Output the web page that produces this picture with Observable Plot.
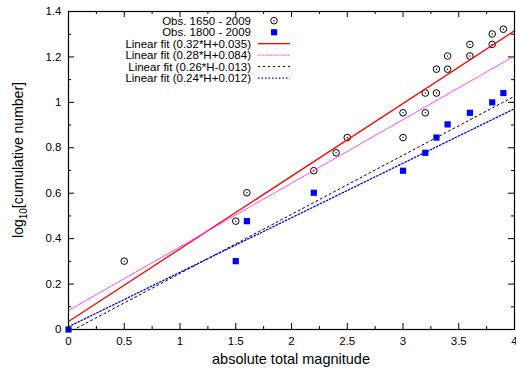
<!DOCTYPE html>
<html><head><meta charset="utf-8">
<script src="https://cdn.jsdelivr.net/npm/d3@7"></script>
<script src="https://cdn.jsdelivr.net/npm/@observablehq/plot@0.6"></script>
<style>body{margin:0;background:#fff}svg{display:block}</style>
</head><body><div id="chart"></div>
<script>
// Observations 1650 - 2009 (circles)
const obs1650Mag  = [0.5, 1.5, 1.6, 2.2, 2.4, 2.5, 3.0, 3.0, 3.2, 3.2, 3.3, 3.3, 3.4, 3.4, 3.6, 3.6, 3.8, 3.8, 3.9];
const obs1650LogN = [0.301, 0.477, 0.602, 0.699, 0.778, 0.845, 0.845, 0.954, 0.954, 1.041, 1.041, 1.146, 1.146, 1.204, 1.204, 1.255, 1.255, 1.301, 1.322];
// Observations 1800 - 2009 (squares)
const obs1800Mag  = [0, 1.5, 1.6, 2.2, 3.0, 3.2, 3.3, 3.4, 3.6, 3.8, 3.9];
const obs1800LogN = [0, 0.301, 0.477, 0.602, 0.699, 0.778, 0.845, 0.903, 0.954, 1.0, 1.041];
const fitLabels = ["Linear fit (0.32*H+0.035)", "Linear fit (0.28*H+0.084)", "Linear fit (0.26*H-0.013)", "Linear fit (0.24*H+0.012)"];
const fitXStart = [0, 0, 0, 0];
const fitXEnd   = [4, 4, 4, 4];
const fitYStart = [0.035, 0.084, -0.013, 0.012];
const fitYEnd   = [1.315, 1.204, 1.027, 0.972];
const seriesLabels = ["Obs. 1650 - 2009", "Obs. 1800 - 2009"];
// Tick values
const xMajor = [0, 0.5, 1, 1.5, 2, 2.5, 3, 3.5, 4];
const xMinor = [0.25, 0.75, 1.25, 1.75, 2.25, 2.75, 3.25, 3.75];
const yMajor = [0, 0.2, 0.4, 0.6, 0.8, 1, 1.2, 1.4];
const yMinor = [0.1, 0.3, 0.5, 0.7, 0.9, 1.1, 1.3];
const xLabel = "absolute total magnitude";

// styles
const fitStyles = [
  {stroke: "#ff0000", strokeWidth: 1.3, strokeDasharray: null},
  {stroke: "#ff33ff", strokeWidth: 1, strokeDasharray: "1.5,1"},
  {stroke: "#000000", strokeWidth: 1, strokeDasharray: "2,3"},
  {stroke: "#0000ff", strokeWidth: 1.3, strokeDasharray: "1.5,2"}
];

const W = 516, H = 369, mL = 68, mR = 2, mT = 11, mB = 40;
const PW = W - mL - mR, PH = H - mT - mB;

const circles = obs1650Mag.map((m, i) => ({x: m, y: obs1650LogN[i]}));
const squares = obs1800Mag.map((m, i) => ({x: m, y: obs1800LogN[i]}));
const fits = fitLabels.map((l, i) => [
  {x: fitXStart[i], y: fitYStart[i]},
  {x: fitXEnd[i], y: fitYEnd[i]}
]);

const fmt = d => String(d);

const chart = Plot.plot({
  width: W, height: H,
  marginLeft: mL, marginRight: mR, marginTop: mT, marginBottom: mB,
  style: {fontFamily: "'Liberation Sans', Arial, sans-serif", fontSize: "11.5px", background: "#fff", color: "#000", overflow: "visible"},
  x: {domain: [0, 4]},
  y: {domain: [0, 1.4]},
  marks: [
    Plot.axisX(xMajor, {tickSize: 0, tickPadding: 7, tickFormat: fmt, label: null, fontSize: 11.5}),
    Plot.axisY(yMajor, {tickSize: 0, tickPadding: 7, tickFormat: fmt, label: null, fontSize: 11.5}),
    Plot.tickX(xMajor, {x: d => d, insetTop: PH - 6, stroke: "#000"}),
    Plot.tickX(xMajor, {x: d => d, insetBottom: PH - 6, stroke: "#000"}),
    Plot.tickX(xMinor, {x: d => d, insetTop: PH - 3, stroke: "#000"}),
    Plot.tickX(xMinor, {x: d => d, insetBottom: PH - 3, stroke: "#000"}),
    Plot.tickY(yMajor, {y: d => d, insetRight: PW - 6, stroke: "#000"}),
    Plot.tickY(yMajor, {y: d => d, insetLeft: PW - 6, stroke: "#000"}),
    Plot.tickY(yMinor, {y: d => d, insetRight: PW - 3, stroke: "#000"}),
    Plot.tickY(yMinor, {y: d => d, insetLeft: PW - 3, stroke: "#000"}),
    Plot.dot(circles, {x: "x", y: "y", r: 3.3, stroke: "#000", strokeWidth: 1, fill: "none"}),
    Plot.dot(circles, {x: "x", y: "y", r: 0.7, fill: "#000"}),
    Plot.dot(squares, {x: "x", y: "y", symbol: "square", r: 3.5, fill: "#0000ff"}),
    ...fits.map((f, i) => Plot.line(f, {x: "x", y: "y", clip: true, ...fitStyles[i]})),
    Plot.frame({stroke: "#000", strokeWidth: 1.2})
  ]
});
document.getElementById("chart").appendChild(chart);

const svg = d3.select(chart);
// x label
svg.append("text").attr("x", 291).attr("y", 364).attr("text-anchor", "middle")
  .attr("font-size", 14.5).attr("fill", "#000").text(xLabel);
// y label with subscript
const yl = svg.append("text").attr("transform", "translate(23,160) rotate(-90)")
  .attr("text-anchor", "middle").attr("font-size", 14).attr("fill", "#000");
yl.append("tspan").text("log");
yl.append("tspan").attr("font-size", 10).attr("dy", 4).text("10");
yl.append("tspan").attr("dy", -4).text("[cumulative number]");

// legend
const lg = svg.append("g").attr("font-size", 11.5).attr("fill", "#000");
const rowY = i => 20.7 + i * 11.47;
const labels = [...seriesLabels, ...fitLabels];
labels.forEach((t, i) => {
  lg.append("text").attr("x", 251).attr("y", rowY(i) + 4).attr("text-anchor", "end").text(t);
});
// legend symbols
lg.append("circle").attr("cx", 274).attr("cy", rowY(0)).attr("r", 3.3).attr("fill", "none").attr("stroke", "#000");
lg.append("circle").attr("cx", 274).attr("cy", rowY(0)).attr("r", 0.7).attr("fill", "#000");
lg.append("rect").attr("x", 271).attr("y", rowY(1) - 3).attr("width", 6.2).attr("height", 6.2).attr("fill", "#0000ff");
fitStyles.forEach((s, i) => {
  lg.append("line").attr("x1", 258).attr("x2", 290).attr("y1", rowY(i + 2)).attr("y2", rowY(i + 2))
    .attr("stroke", s.stroke).attr("stroke-width", s.strokeWidth)
    .attr("stroke-dasharray", s.strokeDasharray);
});
</script>
</body></html>
